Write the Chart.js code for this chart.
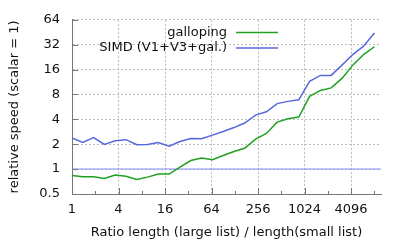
<!DOCTYPE html>
<html>
<head>
<meta charset="utf-8">
<script src="https://cdn.jsdelivr.net/npm/chart.js@4.4.1/dist/chart.umd.min.js"></script>
<style>
  html, body { margin: 0; padding: 0; background: #fff; }
  #wrap { width: 407px; height: 244px; position: relative; }
</style>
</head>
<body>
<div id="wrap"><canvas id="grafico"></canvas></div>
<script>
// ratio large/small
const ratios = [1, 1.38, 1.9, 2.63, 3.62, 5, 6.9, 9.5, 13.1, 18.1, 25, 34.5, 47.6, 65.7, 90.6,
  125, 172, 238, 328, 453, 625, 862, 1190, 1642, 2265, 3125, 4312, 5949, 8208];
const galloping = [0.84, 0.81, 0.81, 0.77, 0.85, 0.82, 0.75, 0.80, 0.87, 0.87, 1.06, 1.27, 1.36, 1.30, 1.46,
  1.63, 1.79, 2.31, 2.70, 3.7, 4.06, 4.26, 7.6, 8.95, 9.6, 12.5, 18.1, 24.3, 30.2];
const simd = [2.38, 2.10, 2.41, 1.99, 2.20, 2.27, 1.97, 1.99, 2.10, 1.89, 2.16, 2.35, 2.33, 2.58, 2.85,
  3.18, 3.61, 4.5, 4.93, 6.2, 6.6, 6.9, 11.5, 13.6, 13.6, 18.1, 24.3, 30.7, 44.4];
const baseX = [1, 10000];
const baseY = [1, 1];
const xMajor = [1, 4, 16, 64, 256, 1024, 4096];
const xMinor = [2, 8, 32, 128, 512, 2048, 8192];
const yTicks = [0.5, 1, 2, 4, 8, 16, 32, 64];

const verde = 'rgb(32,160,32)';
const azul = 'rgb(88,104,222)';
const gris = '#bbbbbb';

Chart.defaults.font.family = '"DejaVu Sans", sans-serif';
Chart.defaults.font.size = 13;
Chart.defaults.color = '#111';

function puntos(xs, ys) {
  return xs.map((x, i) => ({x: x, y: ys[i]}));
}

// inward ticks and the key
const marcas = {
  id: 'marcas',
  afterDraw(chart) {
    const ctx = chart.ctx, a = chart.chartArea;
    const sx = chart.scales.x, sy = chart.scales.y;
    ctx.save();
    ctx.strokeStyle = '#777';
    ctx.lineWidth = 1;
    ctx.beginPath();
    xMajor.concat(xMinor).forEach(v => {
      const px = Math.round(sx.getPixelForValue(v)) + 0.5;
      const l = xMajor.includes(v) ? 6 : 3;
      ctx.moveTo(px, a.bottom);
      ctx.lineTo(px, a.bottom - l);
    });
    yTicks.forEach(v => {
      const py = Math.round(sy.getPixelForValue(v)) + 0.5;
      ctx.moveTo(a.left, py);
      ctx.lineTo(a.left + 6, py);
    });
    ctx.stroke();

    const items = [['galloping', verde, 32.5], ['SIMD (V1+V3+gal.)', azul, 48]];
    ctx.font = '13px "DejaVu Sans", sans-serif';
    ctx.textAlign = 'right';
    ctx.textBaseline = 'middle';
    items.forEach(it => {
      ctx.fillStyle = '#111';
      ctx.fillText(it[0], 227, it[2]);
      ctx.strokeStyle = it[1];
      ctx.lineWidth = 1.5;
      ctx.beginPath();
      ctx.moveTo(236, it[2]);
      ctx.lineTo(278, it[2]);
      ctx.stroke();
    });
    ctx.restore();
  }
};

let grafico = new Chart(document.getElementById('grafico'), {
  type: 'line',
  data: {
    datasets: [
      {
        label: 'galloping',
        data: puntos(ratios, galloping),
        borderColor: verde,
        borderWidth: 1.5,
        pointRadius: 0,
        tension: 0
      },
      {
        label: 'SIMD (V1+V3+gal.)',
        data: puntos(ratios, simd),
        borderColor: azul,
        borderWidth: 1.5,
        pointRadius: 0,
        tension: 0
      },
      {
        label: 'scalar',
        data: puntos(baseX, baseY),
        borderColor: 'rgba(120,130,255,0.6)',
        borderWidth: 1.5,
        pointRadius: 0,
        tension: 0
      }
    ]
  },
  options: {
    responsive: true,
    maintainAspectRatio: false,
    animation: false,
    layout: {padding: {top: 18, right: 26, left: 0, bottom: 0}},
    plugins: {
      legend: {display: false},
      tooltip: {enabled: false}
    },
    scales: {
      x: {
        type: 'logarithmic',
        min: 1,
        max: 10000,
        afterBuildTicks: s => {
          s.ticks = xMajor.concat(xMinor).sort((a, b) => a - b).map(v => ({value: v}));
        },
        afterFit: s => { s.height = 50; },
        ticks: {
          autoSkip: false,
          maxRotation: 0,
          padding: 8,
          callback: v => xMajor.includes(v) ? String(v) : ''
        },
        grid: {
          drawTicks: false,
          lineWidth: 1,
          color: c => (c.tick && xMajor.includes(c.tick.value)) ? gris : 'rgba(0,0,0,0)'
        },
        border: {color: '#777', dash: [2, 2]},
        title: {
          display: true,
          text: 'Ratio length (large list) / length(small list)',
          padding: {top: 4, bottom: 4}
        }
      },
      y: {
        type: 'logarithmic',
        min: 0.5,
        max: 64,
        afterBuildTicks: s => {
          s.ticks = yTicks.map(v => ({value: v}));
        },
        afterFit: s => { s.width = 72; },
        ticks: {
          autoSkip: false,
          padding: 12,
          callback: v => String(v)
        },
        grid: {
          drawTicks: false,
          lineWidth: 1,
          color: gris
        },
        border: {color: '#777', dash: [2, 2]},
        title: {
          display: true,
          text: 'relative speed (scalar = 1)',
          padding: {top: 7, bottom: 4}
        }
      }
    }
  },
  plugins: [marcas]
});
</script>
</body>
</html>
